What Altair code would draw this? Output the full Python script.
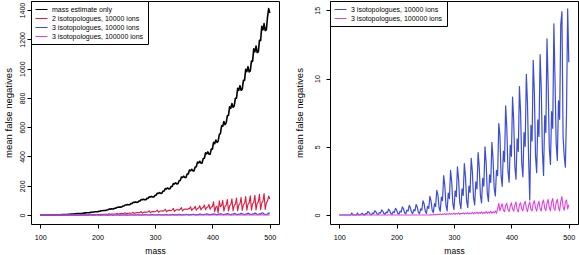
import altair as alt
import pandas as pd

# mass grid (every 2 mass units)
mass = list(range(100, 501, 2))

series_names = [
    "mass estimate only",
    "2 isotopologues, 10000 ions",
    "3 isotopologues, 10000 ions",
    "3 isotopologues, 100000 ions",
]
series_colors = ["#000000", "#e3183c", "#3b4cd6", "#e040e0"]
series_widths = [1.6, 1.1, 1.2, 1.1]

black = [0] * 15 + [
    1, 1.4, 1.8, 2.3, 2.7,
    3.1, 3.3, 3.6, 4.2, 4.6,
    5.3, 5.7, 6.4, 6.6, 7.0,
    8.1, 8.5, 9.8, 10.0, 10.7,
    10.7, 11.2, 12.7, 13.3, 15.1,
    15.3, 16.3, 16.1, 16.5, 18.4,
    18.8, 21.2, 21.4, 22.7, 22.3,
    22.8, 25.5, 26.1, 29.3, 29.4,
    30.9, 30.7, 31.5, 35.1, 36.0,
    40.3, 40.4, 42.4, 41.5, 42.2,
    46.5, 47.5, 53.0, 53.0, 55.6,
    54.3, 55.3, 61.0, 62.0, 68.7,
    68.3, 71.7, 70.0, 71.1, 78.2,
    79.2, 87.3, 86.5, 89.8, 86.9,
    87.4, 95.5, 96.2, 105.8, 104.4,
    108.2, 104.4, 104.7, 113.9, 114.2,
    125.1, 123.4, 127.7, 123.2, 123.5,
    134.3, 135.6, 149.5, 147.9, 153.5,
    148.4, 149.5, 163.4, 164.5, 180.8,
    178.5, 185.0, 178.7, 179.4, 195.3,
    196.0, 215.6, 213.0, 220.6, 213.0,
    213.8, 233.9, 235.8, 259.5, 256.4,
    265.7, 256.5, 257.3, 280.0, 280.8,
    307.4, 302.9, 313.1, 301.7, 302.1,
    328.3, 329.7, 361.5, 356.0, 367.7,
    354.1, 355.3, 386.8, 388.1, 425.1,
    418.2, 431.6, 415.2, 415.2, 450.5,
    450.5, 497.1, 487.8, 511.9, 495.7,
    505.0, 549.4, 557.4, 610.0, 607.0,
    638.6, 617.9, 630.0, 677.7, 681.1,
    740.0, 729.2, 761.2, 736.0, 745.0,
    797.9, 798.9, 865.0, 852.0, 883.7,
    852.0, 860.0, 920.1, 919.7, 995.0,
    980.0, 1013.5, 978.0, 985.0, 1051.4,
    1049.4, 1135.0, 1115.0, 1153.6, 1110.0,
    1115.0, 1193.8, 1192.0, 1290.0, 1265.0,
    1308.1, 1260.0, 1265.0, 1352.4, 1410.0,
    1380.0,
]

red = [0] * 15 + [
    0, 0, 0.1, 0.1, 0.2,
    0.2, 0.3, 0.3, 0.3, 0.5,
    0.7, 0.4, 0.7, 0.8, 0.9,
    0.9, 1.2, 1.6, 0.9, 1.3,
    1.5, 1.6, 1.6, 2.0, 2.7,
    1.5, 2.2, 2.5, 2.7, 2.6,
    3.2, 4.2, 2.4, 3.4, 3.8,
    4.0, 3.8, 4.6, 6.0, 3.4,
    4.8, 5.3, 5.6, 5.3, 6.5,
    8.5, 4.8, 6.7, 7.4, 7.7,
    7.2, 8.8, 11.4, 6.4, 9.1,
    10.0, 10.4, 9.7, 11.8, 15.1,
    8.4, 11.8, 12.8, 13.2, 12.2,
    14.7, 19.0, 10.6, 15.0, 16.4,
    17.0, 15.8, 18.9, 24.1, 13.3,
    18.5, 20.0, 20.5, 18.9, 22.6,
    28.6, 15.8, 22.0, 23.8, 24.4,
    22.5, 26.9, 34.1, 18.8, 26.0,
    28.0, 28.6, 26.3, 31.3, 39.5,
    21.7, 30.0, 32.2, 32.8, 30.1,
    35.7, 45.0, 24.6, 34.0, 36.4,
    37.0, 33.8, 40.1, 50.4, 27.6,
    38.0, 40.6, 41.2, 37.6, 44.5,
    43.0, 56.7, 30.9, 42.6, 45.4,
    59.8, 32.8, 45.2, 48.4, 64.0,
    35.0, 48.3, 51.6, 68.1, 37.2,
    51.3, 54.8, 72.3, 39.5, 54.3,
    58.0, 91.1, 23.8, 54.4, 61.2,
    14.0, 97.0, 57.2, 64.4, 101.1,
    26.4, 60.1, 67.6, 106.0, 27.7,
    63.0, 70.8, 111.0, 29.0, 65.9,
    74.0, 115.9, 30.2, 68.8, 77.2,
    120.9, 31.5, 71.6, 80.4, 125.9,
    32.8, 74.5, 83.6, 130.8, 34.1,
    77.4, 86.8, 135.8, 35.4, 80.3,
    90.0, 141.1, 36.8, 83.7, 94.0,
    147.3, 38.0, 85.5, 95.0, 130.0,
    110.0,
]

blue = [0] * 10 + [
    0, 0.15, 0, 0, 0,
    0, 0.15, 0, 0, 0.05,
    0.14, 0.03, 0.0, 0.1, 0.07,
    0.25, 0.19, 0.05, 0.02, 0.14,
    0.1, 0.31, 0.23, 0.07, 0.04,
    0.18, 0.14, 0.37, 0.28, 0.1,
    0.05, 0.21, 0.16, 0.43, 0.32,
    0.11, 0.05, 0.24, 0.18, 0.49,
    0.37, 0.12, 0.06, 0.28, 0.21,
    0.6, 0.46, 0.16, 0.09, 0.36,
    0.28, 0.71, 0.53, 0.19, 0.1,
    0.39, 0.3, 0.77, 0.58, 0.2,
    0.1, 0.45, 0.36, 1.04, 0.81,
    0.27, 0.11, 0.64, 0.48, 1.36,
    1.03, 0.35, 0.17, 0.83, 0.62,
    1.8, 1.47, 0.53, 0.26, 1.31,
    1.05, 2.88, 2.16, 0.71, 0.3,
    1.6, 1.2, 3.28, 2.43, 0.81,
    0.4, 1.77, 1.34, 3.52, 2.62,
    0.92, 0.46, 1.91, 1.43, 3.76,
    2.81, 1.03, 0.56, 2.12, 1.66,
    4.15, 3.16, 1.25, 0.74, 2.42,
    1.91, 4.57, 3.5, 1.44, 0.88,
    2.68, 2.12, 4.99, 3.83, 1.6,
    1.0, 2.95, 2.38, 5.32, 4.13,
    1.94, 1.4, 3.27, 2.89, 6.7,
    5.85, 2.88, 2.1, 4.69, 3.91,
    8.0, 6.36, 3.23, 2.4, 5.13,
    4.3, 8.63, 6.9, 3.54, 2.62,
    5.58, 4.66, 9.41, 7.5, 3.81,
    2.8, 6.04, 5.03, 10.31, 8.2,
    4.06, 1.1, 6.56, 5.42, 11.33,
    8.95, 4.33, 3.1, 6.98, 5.75,
    11.75, 9.25, 4.63, 2.9, 7.28,
    6.05, 12.9, 9.55, 4.93, 3.7,
    7.58, 6.35, 14.0, 9.85, 5.23,
    4.0, 8.37, 7.01, 13.95, 14.9,
    5.75, 4.3, 3.5, 7.49, 15.1,
    11.2,
]

magenta = [0] * 80 + [
    0.02, 0, 0.03, 0.01, 0.04,
    0.02, 0.06, 0.03, 0.08, 0.02,
    0.07, 0.04, 0.1, 0.03, 0.09,
    0.05, 0.12, 0.04, 0.1, 0.06,
    0.13, 0.05, 0.11, 0.07, 0.15,
    0.05, 0.12, 0.08, 0.16, 0.06,
    0.14, 0.09, 0.18, 0.07, 0.15,
    0.1, 0.2, 0.08, 0.17, 0.11,
    0.22, 0.09, 0.19, 0.12, 0.24,
    0.1, 0.2, 0.13, 0.26, 0.11,
    0.22, 0.14, 0.28, 0.12, 0.24,
    0.15, 0.3, 0.13, 0.45, 0.85,
    0.3, 0.6, 0.82, 0.35, 0.25,
    0.7, 0.85, 0.4, 0.25, 0.65,
    0.9, 0.45, 0.28, 0.7, 0.95,
    0.4, 0.22, 0.75, 0.9, 0.45,
    0.3, 0.8, 1.0, 0.5, 0.25,
    0.7, 0.95, 0.4, 0.3, 0.85,
    1.05, 0.5, 0.28, 0.75, 1.0,
    0.45, 0.3, 0.9, 1.1, 0.5,
    0.32, 0.85, 1.15, 0.55, 0.3,
    0.95, 1.2, 0.5, 0.35, 0.9,
    1.15, 0.55, 0.3, 1.0, 1.35,
    0.6, 0.35, 0.95, 1.1, 0.45,
    0.75,
]

all_values = [black, red, blue, magenta]
for nm, vals in zip(series_names, all_values):
    if len(vals) != len(mass):
        raise SystemExit(f"length mismatch for {nm}: {len(vals)} vs {len(mass)}")

rows = []
for nm, vals in zip(series_names, all_values):
    for m, v in zip(mass, vals):
        rows.append({"mass": m, "value": v, "series": nm})
df = pd.DataFrame(rows)

FONT = "Liberation Sans"

xaxis = alt.Axis(
    values=[100, 200, 300, 400, 500], title="mass", domain=False, grid=False,
    tickSize=4, tickColor="black", labelColor="black", titleColor="black",
    labelFont=FONT, titleFont=FONT, labelFontSize=7.2, titleFontSize=8.5,
    titleFontWeight="normal", labelPadding=5, titlePadding=6, labelFlush=False,
    format="d",
)


def yaxis(vals, tpad, lpad):
    return alt.Axis(
        values=vals, title="mean false negatives", domain=False, grid=False,
        tickSize=4, tickColor="black", labelColor="black", titleColor="black",
        labelFont=FONT, titleFont=FONT, labelFontSize=7, titleFontSize=9.5,
        titleFontWeight="normal", labelAngle=270, labelAlign="center",
        labelBaseline="bottom", labelPadding=lpad, titlePadding=tpad,
        labelFlush=False, labelOverlap=False, format="d",
    )


def make_legend():
    return alt.Legend(
        title=None, orient="none", legendX=0, legendY=0,
        symbolType="M-1.5,0H1.5", symbolSize=64, symbolStrokeWidth=1,
        labelFont=FONT, labelFontSize=7, labelColor="black",
        strokeColor="black", fillColor="white", padding=4,
        rowPadding=1, labelOffset=6, symbolOffset=2, labelLimit=0,
    )


def panel(names, ydomain, yvals, tpad, lpad):
    cols = [series_colors[series_names.index(n)] for n in names]
    layers = []
    for n in names:
        layers.append(
            alt.Chart(df[df.series == n])
            .mark_line(strokeWidth=series_widths[series_names.index(n)], strokeJoin="round", clip=True)
            .encode(
                x=alt.X("mass:Q", scale=alt.Scale(domain=[84, 516], nice=False, zero=False), axis=xaxis),
                y=alt.Y("value:Q", scale=alt.Scale(domain=ydomain, nice=False, zero=False), axis=yaxis(yvals, tpad, lpad)),
                color=alt.Color("series:N", scale=alt.Scale(domain=names, range=cols), legend=make_legend()),
            )
        )
    return alt.layer(*layers).properties(width=248, height=223)


left = panel(series_names, [-61, 1462], [0, 200, 400, 600, 800, 1000, 1200, 1400], 5, 2)
right = panel(series_names[2:], [-0.66, 15.68], [0, 5, 10, 15], 9, 6)

chart = (
    alt.hconcat(left, right, spacing=51, bounds="flush")
    .resolve_scale(color="independent")
    .configure(padding={"left": 2, "top": 0, "right": 0, "bottom": 1}, background="white")
    .configure_view(stroke="black", strokeWidth=1)
)

chart.save("out.html", embed_options={"renderer": "svg", "actions": False})
